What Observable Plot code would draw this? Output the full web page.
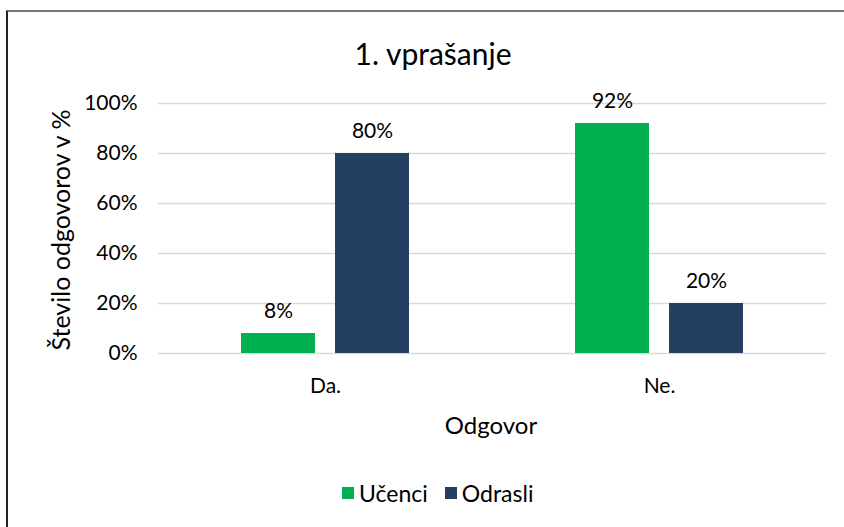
<!DOCTYPE html>
<html>
<head>
<meta charset="utf-8">
<script src="https://cdn.jsdelivr.net/npm/d3@7"></script>
<script src="https://cdn.jsdelivr.net/npm/@observablehq/plot@0.6"></script>
<style>
  html, body { margin: 0; padding: 0; background: #fff; overflow: hidden; }
  body { width: 844px; height: 527px; position: relative; font-family: Lato, "Noto Sans", sans-serif; color: #000; }
  #frame { position: absolute; left: 6px; top: 10px; width: 900px; height: 600px; border-left: 2px solid #222; border-top: 2px solid #777; box-sizing: border-box; }
  #chart { position: absolute; left: 0; top: 0; }
  #title { position: absolute; left: 0; width: 866px; top: 35px; text-align: center; font-size: 30px; line-height: 36px; }
  #ylabel { position: absolute; left: 60px; top: 230px; width: 320px; text-align: center; font-size: 25px; line-height: 28px; transform: translate(-50%, -50%) rotate(-90deg); white-space: nowrap; }
  #xlabel { position: absolute; left: 491px; top: 424px; transform: translate(-50%, -50%); font-size: 24px; white-space: nowrap; }
  #legend { position: absolute; left: 342px; top: 480px; height: 26px; font-size: 23px; display: flex; align-items: center; }
  .sw { display: inline-block; width: 12px; height: 12px; margin-right: 5px; }
  .item { display: flex; align-items: center; margin-right: 17px; }
</style>
</head>
<body>
<div id="frame"></div>
<div id="title">1. vprašanje</div>
<div id="ylabel">Število odgovorov v %</div>
<div id="xlabel">Odgovor</div>
<div id="chart"></div>
<div id="legend"></div>
<script>
const answers = ["Da.", "Ne."];
const groups = ["Učenci", "Odrasli"];
const ucenci = [0.08, 0.92];
const odrasli = [0.80, 0.20];
const colors = ["#00B050", "#253F61"];
const yTicks = [0, 0.2, 0.4, 0.6, 0.8, 1.0];

const data = [];
answers.forEach((a, i) => {
  data.push({answer: a, group: groups[0], value: ucenci[i]});
  data.push({answer: a, group: groups[1], value: odrasli[i]});
});

const fmt = d3.format(".0%");

const chart = Plot.plot({
  width: 844,
  height: 445,
  marginTop: 103,
  marginBottom: 92,
  marginLeft: 157,
  marginRight: 18,
  style: {fontFamily: "Lato, 'Noto Sans', sans-serif", fontSize: "21px", color: "#000", background: "transparent"},
  fx: {domain: answers, paddingInner: 0, paddingOuter: 0, axis: "bottom", tickSize: 0, tickPadding: 25, label: null},
  x: {domain: groups, axis: null, paddingInner: 0.2105, paddingOuter: 0.866},
  y: {domain: [0, 1], ticks: yTicks, tickFormat: fmt, tickSize: 0, tickPadding: 21, label: null, axis: "left"},
  color: {domain: groups, range: colors},
  marks: [
    Plot.gridY(yTicks, {stroke: "#d9d9d9", strokeOpacity: 1, strokeWidth: 1.5}),
    Plot.barY(data, {fx: "answer", x: "group", y: "value", fill: "group"}),
    Plot.text(data, {fx: "answer", x: "group", y: "value", text: d => fmt(d.value), lineAnchor: "bottom", dy: -16, fill: "#000", fontSize: 21})
  ]
});
document.getElementById("chart").appendChild(chart);

const legend = document.getElementById("legend");
groups.forEach((g, i) => {
  const it = document.createElement("div");
  it.className = "item";
  it.innerHTML = `<span class="sw" style="background:${colors[i]}"></span><span>${g}</span>`;
  legend.appendChild(it);
});
</script>
</body>
</html>
